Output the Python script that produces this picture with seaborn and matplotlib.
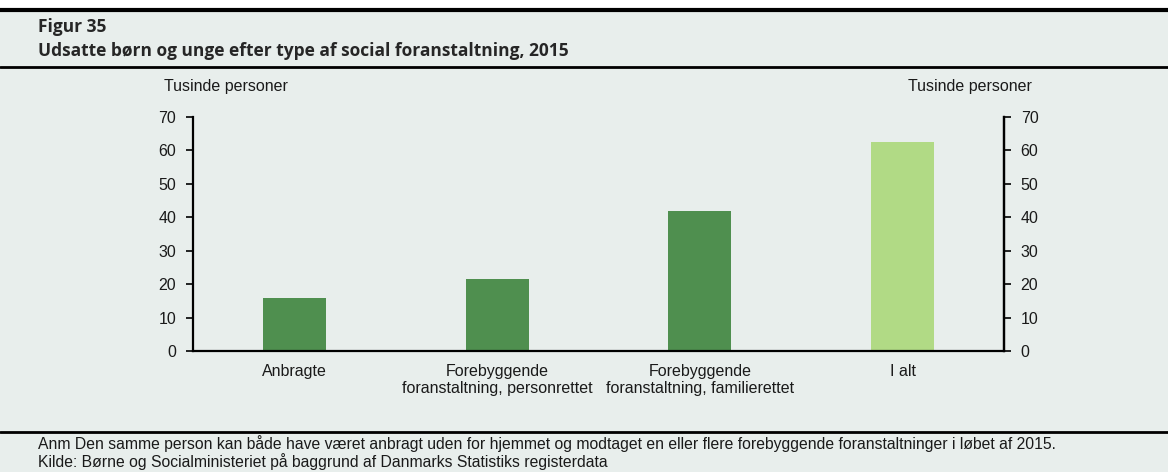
import matplotlib
matplotlib.use("Agg")
import matplotlib.pyplot as plt
import seaborn as sns
import pandas as pd
from matplotlib.patches import Rectangle
from matplotlib.lines import Line2D

categories = ["Anbragte",
              "Forebyggende\nforanstaltning, personrettet",
              "Forebyggende\nforanstaltning, familierettet",
              "I alt"]
values = [16.0, 21.6, 42.0, 62.6]
bar_colors = ["#4f8f4f", "#4f8f4f", "#4f8f4f", "#b1da85"]
y_ticks = [0, 10, 20, 30, 40, 50, 60, 70]
axis_label = "Tusinde personer"
title_1 = "Figur 35"
title_2 = "Udsatte børn og unge efter type af social foranstaltning, 2015"
note = "Anm Den samme person kan både have været anbragt uden for hjemmet og modtaget en eller flere forebyggende foranstaltninger i løbet af 2015."
source = "Kilde: Børne og Socialministeriet på baggrund af Danmarks Statistiks registerdata"

bg = "#e8eeec"
txt = "#1a1a1a"
sns.set_theme(style="white")
plt.rcParams["font.family"] = ["Liberation Sans", "DejaVu Sans"]

W, H = 1168, 472
fig = plt.figure(figsize=(W / 100, H / 100), dpi=100, facecolor=bg)

# white strip above the top rule
fig.add_artist(Rectangle((0, 1 - 9 / H), 1, 9 / H, transform=fig.transFigure,
                         facecolor="white", edgecolor="none", zorder=0))

def hline(ypix, lw):
    fig.add_artist(Line2D([0, 1], [1 - ypix / H] * 2, transform=fig.transFigure,
                          color="black", lw=lw))

hline(10, 3.0)
hline(67, 2.0)
hline(432, 2.0)

fig.text(38 / W, 1 - 27 / H, title_1, fontsize=12.5, fontweight="bold",
         family=["Open Sans", "DejaVu Sans"], va="center", ha="left")
fig.text(38 / W, 1 - 51 / H, title_2, fontsize=12.5, fontweight="bold",
         family=["Open Sans", "DejaVu Sans"], va="center", ha="left")

ax = fig.add_axes([193 / W, 1 - 351 / H, (1004 - 193) / W, (351 - 117) / H])
ax.set_facecolor(bg)

df = pd.DataFrame({"kategori": categories, "værdi": values})
sns.barplot(data=df, x="kategori", y="værdi", hue="kategori",
            palette=bar_colors, width=0.31, legend=False, ax=ax, saturation=1,
            linewidth=0, edgecolor="none")

ax.set_ylim(0, 70)
ax.set_xlim(-0.5, len(categories) - 0.5)
ax.set_yticks(y_ticks)
ax.set_yticklabels([str(t) for t in y_ticks], fontsize=11.5, color=txt)
ax.set_xlabel("")
ax.set_ylabel("")

# category boundaries carry the x ticks, labels sit at bar centres
ax.set_xticks([i + 0.5 for i in range(len(categories) - 1)])
ax.set_xticklabels([])
ax.tick_params(axis="x", direction="in", length=5, width=1.2, color="black")
ax.tick_params(axis="y", direction="out", length=5, width=1.2, color="black", pad=7)
for i, c in enumerate(categories):
    ax.text(i, -4.0, c, ha="center", va="top", fontsize=11.5, color=txt,
            linespacing=1.15)

for s in ["left", "bottom", "right"]:
    ax.spines[s].set_visible(True)
    ax.spines[s].set_color("black")
    ax.spines[s].set_linewidth(1.6)
ax.spines["top"].set_visible(False)

ax2 = ax.twinx()
ax2.set_ylim(0, 70)
ax2.set_yticks(y_ticks)
ax2.set_yticklabels([str(t) for t in y_ticks], fontsize=11.5, color=txt)
ax2.tick_params(axis="y", direction="out", length=5, width=1.2, color="black", pad=7)
for s in ["left", "top", "bottom"]:
    ax2.spines[s].set_visible(False)
ax2.spines["right"].set_color("black")
ax2.spines["right"].set_linewidth(1.6)
ax2.grid(False)
ax.grid(False)

fig.text(164 / W, 1 - 86 / H, axis_label, fontsize=11.5, ha="left", va="center",
         color=txt)
fig.text(970 / W, 1 - 86 / H, axis_label, fontsize=11.5, ha="center", va="center",
         color=txt)

fig.text(38 / W, 1 - 444 / H, note, fontsize=11.3, ha="left", va="center",
         color=txt)
fig.text(38 / W, 1 - 462 / H, source, fontsize=11.3, ha="left", va="center",
         color=txt)

fig.savefig("out.png", dpi=100, facecolor=bg)
